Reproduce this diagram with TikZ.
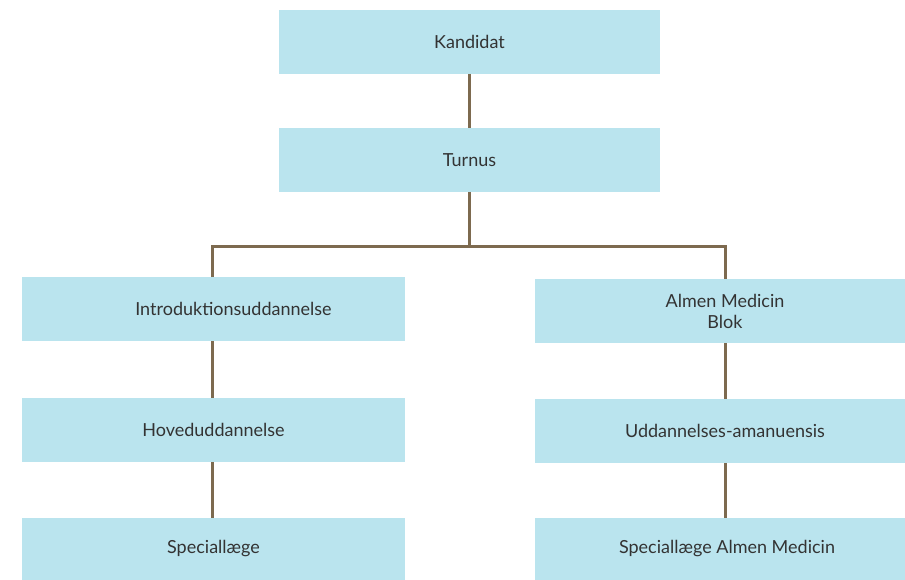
\documentclass[tikz,border=0pt]{standalone}
\usepackage{fontspec}
\setmainfont{Lato}
\definecolor{boxc}{HTML}{BAE4EE}
\definecolor{linec}{HTML}{7D6A4F}
\definecolor{txtc}{HTML}{333333}
\begin{document}
\begin{tikzpicture}[x=1pt,y=-1pt,
  lbl/.style={text=txtc,font=\fontsize{18}{21}\selectfont,align=center,inner sep=0pt},
  conn/.style={draw=linec,line width=3pt}]
\useasboundingbox (0,0) rectangle (905,580);
\begin{scope}
\clip (0,0) rectangle (905,580);
\fill[boxc] (279,10) rectangle (660,74);
\node[lbl] (kand) at (469.5,42) {Kandidat};
\fill[boxc] (279,128) rectangle (660,192);
\node[lbl] (turn) at (469.5,160) {Turnus};
\fill[boxc] (22,277) rectangle (405,341);
\node[lbl] (intro) at (233.5,309) {Introduktionsuddannelse};
\fill[boxc] (22,398) rectangle (405,462);
\node[lbl] (hoved) at (213.5,430) {Hoveduddannelse};
\fill[boxc] (22,518) rectangle (405,582);
\node[lbl] (spec) at (213.5,549) {Speciallæge};
\fill[boxc] (535,279) rectangle (915,343);
\node[lbl] (almen) at (725,311) {Almen Medicin\\Blok};
\fill[boxc] (535,399) rectangle (915,463);
\node[lbl] (udd) at (725,431) {Uddannelses-amanuensis};
\fill[boxc] (535,518) rectangle (915,582);
\node[lbl] (specam) at (727,549) {Speciallæge Almen Medicin};
\end{scope}
\coordinate (kb) at (469.5,74);
\coordinate (tt) at (469.5,128);
\coordinate (tb) at (469.5,192);
\coordinate (mid) at (469.5,247);
\coordinate (lt) at (212,247);
\coordinate (rt) at (725,247);
\coordinate (l1t) at (212,277);
\coordinate (r1t) at (725,279);
\coordinate (l1b) at (212,341);
\coordinate (l2t) at (212,398);
\coordinate (l2b) at (212,462);
\coordinate (l3t) at (212,518);
\coordinate (r1b) at (725,343);
\coordinate (r2t) at (725,399);
\coordinate (r2b) at (725,463);
\coordinate (r3t) at (725,518);
\draw[conn] (kb) -- (tt);
\draw[conn] (tb) -- (mid);
\draw[conn] (l1t) -- (lt) -- (rt) -- (r1t);
\draw[conn] (l1b) -- (l2t);
\draw[conn] (l2b) -- (l3t);
\draw[conn] (r1b) -- (r2t);
\draw[conn] (r2b) -- (r3t);
\end{tikzpicture}
\end{document}
